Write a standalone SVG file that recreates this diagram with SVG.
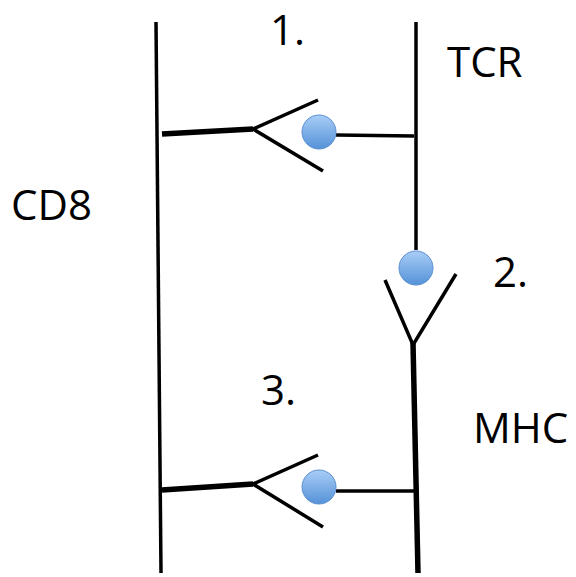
<svg xmlns="http://www.w3.org/2000/svg" width="576" height="577" viewBox="0 0 576 577">
<style>
.l{stroke:#000;fill:none;stroke-linecap:butt}
.thin{stroke-width:3.5}
.thick{stroke-width:5.5}
.t{font-family:"Open Sans","Noto Sans",sans-serif;font-size:42px;fill:#000}
.ball{fill:url(#g);stroke:#5a8fd0;stroke-width:1}
</style>
<defs>
<linearGradient id="g" x1="0" y1="0" x2="0" y2="1">
<stop offset="0" stop-color="#a9cdf7"/>
<stop offset="1" stop-color="#5592d8"/>
</linearGradient>
</defs>
<g id="membranes">
<line class="l thin" x1="156" y1="22" x2="161" y2="573"/>
<line class="l thin" x1="416" y1="22" x2="416" y2="250"/>
<line class="l thick" x1="413" y1="343" x2="418" y2="573"/>
</g>
<g id="pair1">
<polyline class="l thick" points="162,134 253,129"/>
<polyline class="l thin" points="318,100 253,129 323,171"/>
<line class="l thin" x1="336" y1="135" x2="414" y2="136"/>
<circle class="ball" cx="319" cy="132" r="17"/>
</g>
<g id="pair2">
<polyline class="l thin" points="385,280 413,345 456,274"/>
<circle class="ball" cx="416" cy="268" r="17"/>
</g>
<g id="pair3">
<polyline class="l thick" points="162,490 253,484"/>
<polyline class="l thin" points="318,455 253,484 323,527"/>
<line class="l thin" x1="336" y1="491" x2="415" y2="491"/>
<circle class="ball" cx="319" cy="487" r="17"/>
</g>
<g id="labels">
<text class="t" x="270" y="45">1.</text>
<text class="t" x="447" y="77">TCR</text>
<text class="t" x="11" y="220">CD8</text>
<text class="t" x="493" y="287">2.</text>
<text class="t" x="261" y="405">3.</text>
<text class="t" x="473" y="443">MHC</text>
</g>
</svg>
